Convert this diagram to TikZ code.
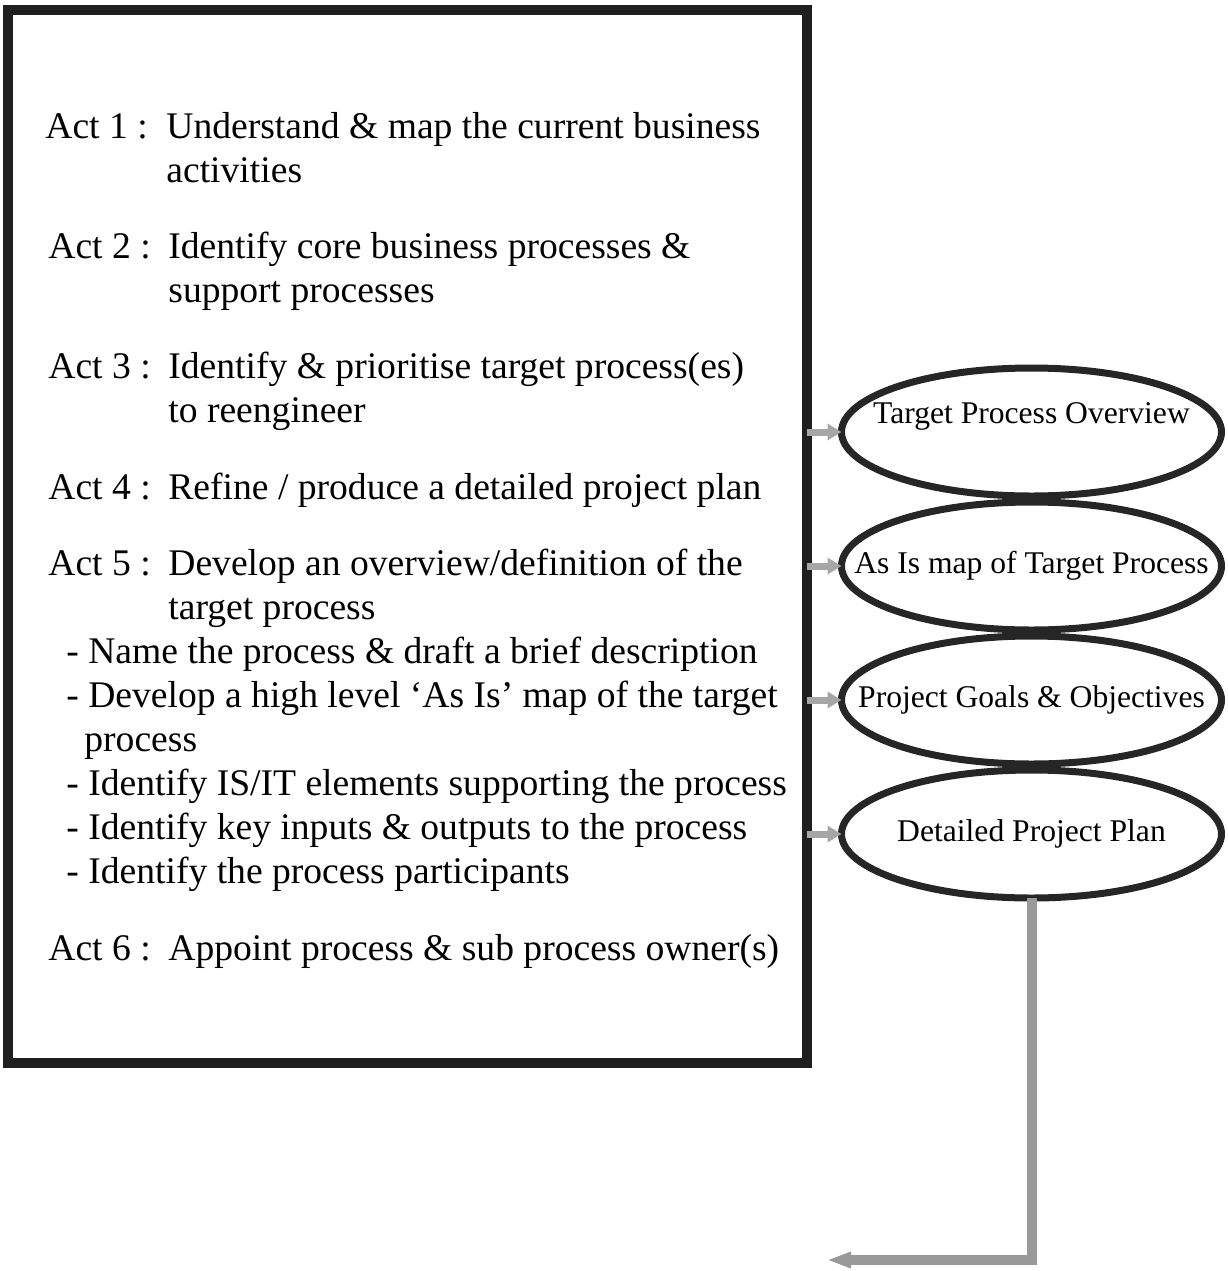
\documentclass[tikz,border=0pt]{standalone}
\usepackage{fontspec}
\setmainfont{Liberation Serif}
\usetikzlibrary{arrows.meta,positioning,shapes.geometric}

\begin{document}
\begin{tikzpicture}[
    x=0.5pt, y=-0.5pt,
    frame/.style={draw=black!88, line width=5pt, minimum width=399.5pt, minimum height=526.5pt, outer sep=0pt},
    act/.style={anchor=base west, inner sep=0pt, font=\fontsize{18.8}{22}\selectfont},
    outcome/.style={ellipse, draw=black!85, line width=3.5pt, minimum width=190pt, minimum height=64pt, inner sep=0pt, outer sep=0pt, align=center, font=\fontsize{15.8}{19}\selectfont},
    feed/.style={-{Triangle[length=7pt,width=8pt]}, line width=3.5pt, draw=black!35},
    loopback/.style={-{Triangle[length=12pt,width=7.5pt]}, line width=5pt, draw=black!40}
]
\useasboundingbox (0,0) rectangle (1228,1271);

% activity list
\node[frame] (box) at (407.5,536.5) {};
\node[act] (act1) at (45,138) {\begin{tabular}[t]{@{}p{60.5pt}@{}l@{}}Act 1 : & Understand \& map the current business\\ & activities\end{tabular}};
\node[act] (act2) at (48,258) {\begin{tabular}[t]{@{}p{60pt}@{}l@{}}Act 2 : & Identify core business processes \&\\ & support processes\end{tabular}};
\node[act] (act3) at (48,378) {\begin{tabular}[t]{@{}p{60pt}@{}l@{}}Act 3 : & Identify \& prioritise target process(es)\\ & to reengineer\end{tabular}};
\node[act] (act4) at (48,499) {\begin{tabular}[t]{@{}p{60pt}@{}l@{}}Act 4 : & Refine / produce a detailed project plan\end{tabular}};
\node[act] (act5) at (48,575) {\begin{tabular}[t]{@{}p{60pt}@{}l@{}}Act 5 : & Develop an overview/definition of the\\ & target process\end{tabular}};
\node[act] (act5list) at (66,663) {\begin{tabular}[t]{@{}l@{}}- Name the process \& draft a brief description\\
- Develop a high level `As Is' map of the target\\
\hspace{9pt}process\\
- Identify IS/IT elements supporting the process\\
- Identify key inputs \& outputs to the process\\
- Identify the process participants\end{tabular}};
\node[act] (act6) at (48,960) {\begin{tabular}[t]{@{}p{60pt}@{}l@{}}Act 6 : & Appoint process \& sub process owner(s)\end{tabular}};

% outcomes
\node[outcome] (tpo) at (1031.5,432) {\makebox[0pt]{Target Process Overview}\\\mbox{}};
\node[outcome, below=3pt of tpo] (asis) {\makebox[0pt]{As Is map of Target Process}};
\node[outcome, below=3pt of asis] (goals) {\makebox[0pt]{Project Goals \& Objectives}};
\node[outcome, below=3pt of goals] (plan) {\makebox[0pt]{Detailed Project Plan}};
\coordinate (ret) at (827,1260);

\draw[feed] (box.east |- tpo.west) -- (tpo.west);
\draw[feed] (box.east |- asis.west) -- (asis.west);
\draw[feed] (box.east |- goals.west) -- (goals.west);
\draw[feed] (box.east |- plan.west) -- (plan.west);
\draw[loopback] (plan.south) |- (ret);
\end{tikzpicture}
\end{document}
